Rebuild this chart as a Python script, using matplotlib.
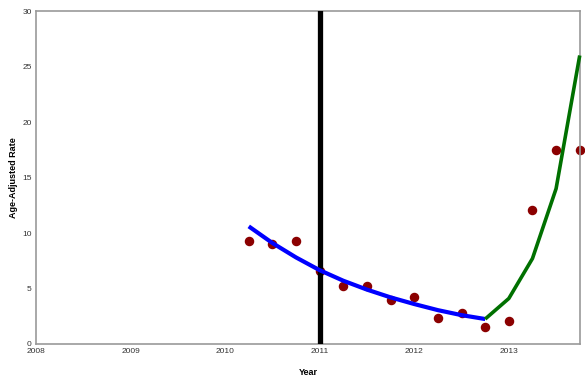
import matplotlib
matplotlib.use('Agg')
import matplotlib.pyplot as plt

plt.rcParams['font.family'] = ['Liberation Sans', 'DejaVu Sans']

# observed rates (quarterly)
obs_x = [2010.25, 2010.5, 2010.75, 2011.0, 2011.25, 2011.5, 2011.75, 2012.0,
         2012.25, 2012.5, 2012.75, 2013.0, 2013.25, 2013.5, 2013.75]
obs_y = [9.3, 9.0, 9.3, 6.6, 5.2, 5.2, 4.0, 4.2, 2.3, 2.8, 1.5, 2.1, 12.1, 17.5, 17.5]

# fitted trend, first segment
fit1_x = [2010.25, 2010.5, 2010.75, 2011.0, 2011.25, 2011.5, 2011.75, 2012.0,
          2012.25, 2012.5, 2012.75]
fit1_y = [10.6, 9.1, 7.8, 6.65, 5.7, 4.9, 4.2, 3.6, 3.05, 2.6, 2.25]

# fitted trend, second segment
fit2_x = [2012.75, 2013.0, 2013.25, 2013.5, 2013.75]
fit2_y = [2.25, 4.1, 7.7, 14.0, 26.0]

event_year = 2011
xticks = [2008, 2009, 2010, 2011, 2012, 2013]
yticks = [0, 5, 10, 15, 20, 25, 30]

fig = plt.figure(figsize=(5.85, 3.82), dpi=100)
ax = fig.add_axes([0.0615, 0.0995, 0.9295, 0.8715])

ax.scatter(obs_x, obs_y, s=34, color='#8b0000', zorder=2, clip_on=False)
ax.axvline(event_year, color='black', lw=3.8, zorder=3)
ax.plot(fit1_x, fit1_y, color='#0000ff', lw=3, zorder=4, solid_capstyle='butt')
ax.plot(fit2_x, fit2_y, color='#007000', lw=2.6, zorder=4, solid_capstyle='butt',
        clip_on=False)

ax.set_xlim(2008, 2013.75)
ax.set_ylim(0, 30)
ax.set_xticks(xticks)
ax.set_yticks(yticks)
ax.tick_params(length=0, labelsize=6, colors='#333333', pad=3)
for s in ax.spines.values():
    s.set_color('#999999')
    s.set_linewidth(1.2)

ax.set_xlabel('Year', fontsize=6.5, fontweight='bold', labelpad=9)
ax.set_ylabel('Age-Adjusted Rate', fontsize=6.5, fontweight='bold', labelpad=3)

fig.savefig('out.png', dpi=100)
